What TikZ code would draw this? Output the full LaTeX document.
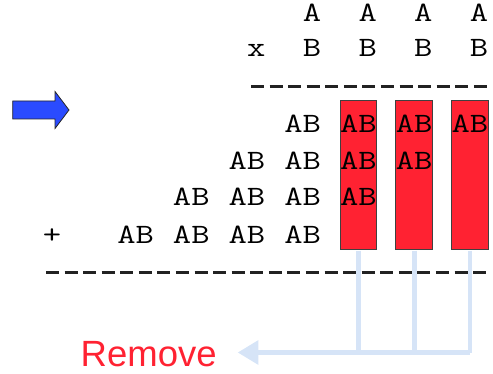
\documentclass[tikz,border=0pt]{standalone}
\usepackage{fontspec}
\usepackage{graphicx}
\usetikzlibrary{arrows.meta}
\newfontfamily\remfont{Liberation Sans}
\definecolor{boxred}{HTML}{FF2232}
\definecolor{arrowblue}{HTML}{2A4BFF}
\definecolor{paleblue}{HTML}{D6E4F7}
\definecolor{rulegray}{HTML}{222222}
\newcommand\mono[1]{\scalebox{1.27}[1]{#1}}
\tikzset{
  tok/.style={anchor=base, inner sep=0pt, font=\fontsize{28}{28}\selectfont\ttfamily, text=black},
  colbox/.style={draw=black!75, line width=0.9pt, fill=boxred, inner sep=0pt,
                 minimum width=36.7pt, minimum height=148.6pt},
  rule/.style={draw=rulegray, line width=2.4pt, dash pattern=on 13pt off 5.57pt},
  conn/.style={draw=paleblue, line width=4.6pt},
}
\begin{document}
\begin{tikzpicture}[x=1pt, y=-1pt]
\useasboundingbox (0,0) rectangle (493,374);

% pointer arrow
\draw[fill=arrowblue, draw=black!85, line width=0.8pt]
  (12.7,101) -- (55,101) -- (55,91.5) -- (69,110) -- (55,128.5) -- (55,119) -- (12.7,119) -- cycle;

% highlighted columns
\node[colbox] (b1) at (358.3,175) {};
\node[colbox] (b2) at (414.2,175) {};
\node[colbox] (b3) at (470.0,175) {};

% multiplicand and multiplier
\foreach \c [count=\i] in {14,17,20,23}{
  \node[tok] (a\i) at ({52+18.57*\c},21.3) {\mono{A}};
  \node[tok] (bb\i) at ({52+18.57*\c},57) {\mono{B}};
}
\node[tok] (times) at ({52+18.57*11},57) {\mono{x}};

% rules
\draw[rule] (251,86.7) -- (488,86.7);
\draw[rule] (46,272.7) -- (488,272.7);

% partial products
\foreach \c [count=\i] in {13,16,19,22}{
  \node[tok] (p1\i) at ({52+18.57*(\c+0.5)},132.3) {\mono{AB}};
}
\foreach \c [count=\i] in {10,13,16,19}{
  \node[tok] (p2\i) at ({52+18.57*(\c+0.5)},169.3) {\mono{AB}};
}
\foreach \c [count=\i] in {7,10,13,16}{
  \node[tok] (p3\i) at ({52+18.57*(\c+0.5)},206) {\mono{AB}};
}
\foreach \c [count=\i] in {4,7,10,13}{
  \node[tok] (p4\i) at ({52+18.57*(\c+0.5)},244) {\mono{AB}};
}
\node[tok] (plus) at (52,244) {\mono{+}};

% label and connectors
\node[anchor=base west, inner sep=0pt, font=\fontsize{36.5}{36.5}\selectfont\remfont, text=boxred]
  (rem) at (80.5,366) {Remove};
\coordinate (j1) at (358.3,352.5);
\coordinate (j2) at (414.2,352.5);
\coordinate (j3) at (470.0,352.5);
\coordinate (tip) at (237.7,352.5);
\draw[conn] (b1.south) ++(0,0.8) -- (j1);
\draw[conn] (b2.south) ++(0,0.8) -- (j2);
\draw[conn] (b3.south) ++(0,0.8) -- (j3);
\draw[conn, -{Triangle[length=20.6pt, width=23.4pt]}] (j3) -- (tip);
\end{tikzpicture}
\end{document}
